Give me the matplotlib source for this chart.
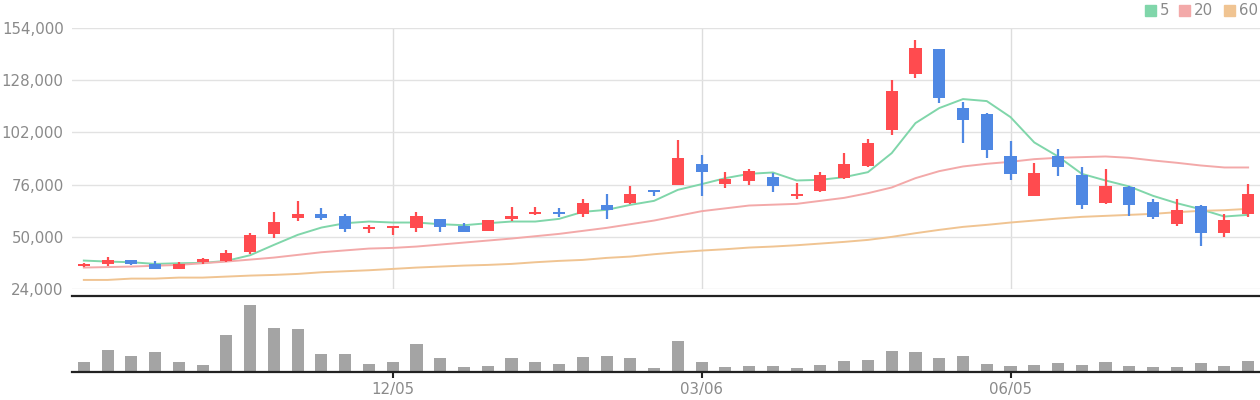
import matplotlib
matplotlib.use("Agg")
import matplotlib.pyplot as plt
import numpy as np

# weekly candles
opens = [35700, 36500, 38500, 36500, 34170, 37660, 38000, 42650, 51620, 59430,
         61430, 60430, 53950, 54450, 54450, 58930, 55440, 52950, 58930, 61430,
         62420, 61430, 65910, 66910, 73390, 75890, 86360, 76390, 77880, 79880,
         70400, 72900, 79380, 85360, 103310, 131230, 143700, 114280, 111290, 90340,
         70400, 90340, 80870, 66910, 74890, 67410, 56440, 65410, 51950, 61430]
closes = [36500, 38490, 36500, 34170, 36500, 38990, 41980, 50960, 57440, 61430,
          59430, 53950, 54940, 55440, 60430, 54940, 52450, 58430, 60430, 62420,
          61430, 66910, 63420, 71400, 72400, 89350, 82370, 78880, 82870, 75390,
          71400, 80870, 86360, 96830, 122750, 144190, 119260, 108300, 93340, 81370,
          81870, 84860, 65910, 75390, 65910, 59930, 63420, 51950, 58430, 71400]
highs = [36900, 39990, 38500, 38000, 37330, 39490, 43480, 51950, 62420, 67910,
         64420, 61430, 55940, 55440, 62420, 58930, 56940, 58430, 64920, 64920,
         64420, 68900, 71400, 75390, 73390, 98320, 90840, 82370, 83860, 81870,
         76880, 82370, 91840, 98820, 128240, 148180, 143700, 117270, 111790, 97830,
         86860, 93840, 84860, 83860, 75390, 68900, 68900, 65910, 61430, 76390]
lows = [35100, 35500, 36000, 34170, 34170, 36500, 37500, 41480, 49460, 58100,
        58430, 52450, 51950, 50960, 52450, 52450, 52450, 52950, 57940, 60930,
        59930, 59930, 58930, 66410, 70400, 75890, 70400, 74390, 75890, 72400,
        68900, 72400, 78880, 84860, 100820, 129240, 116770, 96830, 89350, 78380,
        70400, 80370, 63920, 66410, 60430, 58930, 55440, 45470, 49960, 59930]
volumes = [2900, 6400, 4600, 5800, 2900, 2200, 10900, 19700, 13000, 12700,
           5200, 5200, 2500, 3100, 8200, 4000, 1600, 1900, 4000, 2900,
           2500, 4300, 4600, 4000, 1300, 9100, 3100, 1600, 1900, 1900,
           1300, 2200, 3400, 3700, 6100, 5800, 4000, 4600, 2500, 1900,
           2200, 2800, 2200, 3100, 1900, 1600, 1600, 2800, 1900, 3400]

ma5 = [38160, 37660, 37330, 36500, 36830, 37000, 38000, 40820, 45970, 50960,
       54610, 56770, 57600, 57110, 57110, 56270, 55770, 56770, 57600, 57600,
       58930, 62420, 63420, 65910, 67910, 73390, 76220, 79210, 81370, 82040,
       78050, 78380, 79710, 82200, 91680, 106630, 114110, 118600, 117600, 109620,
       97000, 90010, 81370, 78050, 75060, 70400, 66740, 63750, 60100, 60930]
ma20 = [34670, 34920, 35170, 35580, 36000, 36830, 37660, 38650, 39650, 40980,
        42310, 43230, 44140, 44470, 45140, 46130, 47130, 48130, 49130, 50290,
        51450, 52950, 54450, 56270, 58100, 60430, 62760, 64170, 65580, 66000,
        66410, 67910, 69400, 71730, 74560, 79210, 82700, 85030, 86360, 87350,
        88680, 89350, 89680, 90010, 89350, 88020, 86860, 85530, 84530, 84530]
ma60 = [28520, 28520, 29180, 29180, 29680, 29680, 30180, 30680, 31010, 31510,
        32340, 32840, 33340, 34000, 34670, 35170, 35670, 36000, 36500, 37330,
        38000, 38490, 39490, 40150, 41320, 42310, 43140, 43810, 44640, 45140,
        45800, 46630, 47470, 48460, 49960, 51790, 53450, 54940, 55940, 57110,
        58100, 59100, 59930, 60430, 60930, 61430, 62260, 62920, 63250, 63920]

price_ticks = [24000, 50000, 76000, 102000, 128000, 154000]
date_positions = [13, 26, 39]
date_labels = ["12/05", "03/06", "06/05"]
ma_labels = ["5", "20", "60"]

UP = "#ff4b4f"
DOWN = "#4f88e3"
MA_COLORS = ["#80d6aa", "#f3a9a9", "#f0c492"]
TEXT = "#8a8a8a"

plt.rcParams["font.family"] = ["DejaVu Sans"]

fig = plt.figure(figsize=(12.6, 4), dpi=100)
ax = fig.add_axes([0.0571, 0.2775, 0.9429, 0.6525])
axv = fig.add_axes([0.0571, 0.07, 0.9429, 0.19], sharex=ax)

x = np.arange(len(opens))
o = np.array(opens)
c = np.array(closes)
up = c >= o
colors = np.where(up, UP, DOWN)

ax.vlines(x, lows, highs, colors=colors, linewidth=1.6, zorder=3)
ax.bar(x, np.maximum(np.abs(c - o), 300), bottom=np.minimum(o, c), width=0.51,
       color=colors, zorder=4)
for values, color in zip([ma5, ma20, ma60], MA_COLORS):
    ax.plot(x, values, color=color, linewidth=1.4, zorder=2)

ax.set_xlim(-0.5, 49.5)
ax.set_ylim(24000, 154000)
ax.set_yticks(price_ticks)
ax.set_yticklabels([f"{v:,}" for v in price_ticks])
ax.tick_params(axis="y", length=0, pad=6, labelsize=10.8, colors=TEXT)
ax.tick_params(axis="x", length=0, labelbottom=False)
ax.grid(axis="y", color="#e2e2e2", linewidth=1)
for pos in date_positions:
    ax.axvline(pos, color="#dddddd", linewidth=1, zorder=1)
for spine in ax.spines.values():
    spine.set_visible(False)

# legend boxes at top right
legend_x = [1145, 1179, 1224]
for lx, label, color in zip(legend_x, ma_labels, MA_COLORS):
    fig.patches.append(plt.Rectangle((lx / 1260, 1 - 16 / 400), 11 / 1260, 11 / 400,
                                     transform=fig.transFigure, color=color))
    fig.text((lx + 15) / 1260, 1 - 10.5 / 400, label, color=TEXT, fontsize=10.8,
             va="center", ha="left")

axv.bar(x, volumes, width=0.51, color="#a4a4a4")
axv.set_ylim(0, 22500)
axv.set_yticks([])
axv.set_xticks(date_positions)
axv.set_xticklabels(date_labels)
axv.tick_params(axis="x", length=4, width=1.5, color="#222222", labelsize=10.8,
                labelcolor=TEXT, pad=3)
for side in ["left", "right"]:
    axv.spines[side].set_visible(False)
for side in ["top", "bottom"]:
    axv.spines[side].set_linewidth(1.6)
    axv.spines[side].set_color("#222222")

fig.savefig("out.png", dpi=100)
